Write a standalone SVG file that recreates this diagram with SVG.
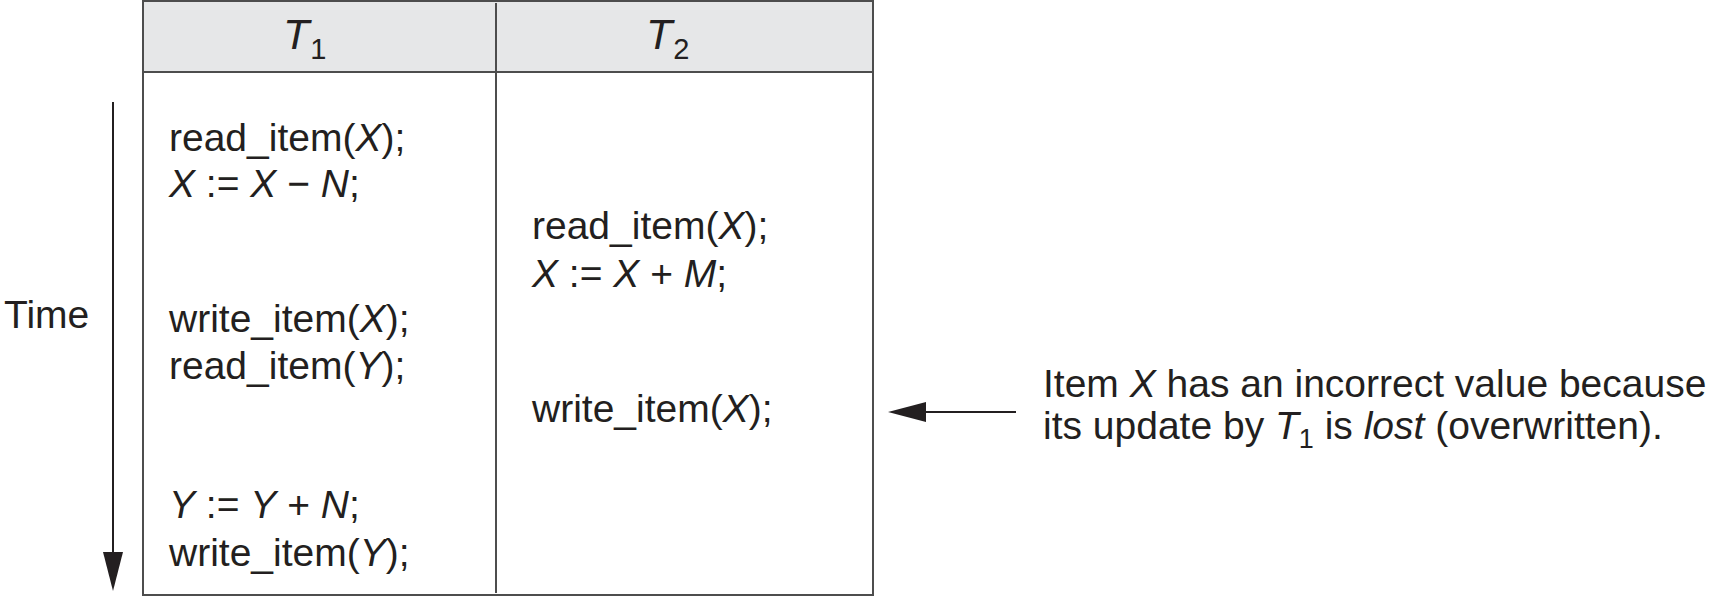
<svg xmlns="http://www.w3.org/2000/svg" width="1710" height="596" viewBox="0 0 1710 596">
<style>
.t{font-family:"Liberation Sans",Arial,sans-serif;font-size:39px;fill:#231f20}
.h{font-size:43px}
.i{font-style:italic}
.ln{stroke:#4d4d4d;stroke-width:2;fill:none}
.ar{stroke:#231f20;stroke-width:2;fill:none}
</style>
<rect width="1710" height="596" fill="#fff"/>
<g id="table">
<rect x="143" y="1" width="730" height="71" fill="#e6e7e8"/>
<rect class="ln" x="143" y="1" width="730" height="594"/>
<line class="ln" x1="143" y1="72" x2="873" y2="72"/>
<line class="ln" x1="496" y1="3" x2="496" y2="593"/>
</g>
<g id="header-t1"><text class="t h" x="283" y="49"><tspan class="i">T</tspan><tspan font-size="29" dx="1" dy="10">1</tspan></text></g>
<g id="header-t2"><text class="t h" x="646" y="49"><tspan class="i">T</tspan><tspan font-size="29" dx="1" dy="10">2</tspan></text></g>
<g id="t1-ops">
<text class="t" x="169" y="151">read_item(<tspan class="i">X</tspan>);</text>
<text class="t" x="169" y="197"><tspan class="i">X</tspan> := <tspan class="i">X</tspan> − <tspan class="i">N</tspan>;</text>
<text class="t" x="169" y="332">write_item(<tspan class="i">X</tspan>);</text>
<text class="t" x="169" y="379">read_item(<tspan class="i">Y</tspan>);</text>
<text class="t" x="169" y="518"><tspan class="i">Y</tspan> := <tspan class="i">Y</tspan> + <tspan class="i">N</tspan>;</text>
<text class="t" x="169" y="566">write_item(<tspan class="i">Y</tspan>);</text>
</g>
<g id="t2-ops">
<text class="t" x="532" y="239">read_item(<tspan class="i">X</tspan>);</text>
<text class="t" x="532" y="287"><tspan class="i">X</tspan> := <tspan class="i">X</tspan> + <tspan class="i">M</tspan>;</text>
<text class="t" x="532" y="422">write_item(<tspan class="i">X</tspan>);</text>
</g>
<g id="time-label"><text class="t" x="4" y="328">Time</text></g>
<g id="note">
<text class="t" x="1043" y="397">Item <tspan class="i">X</tspan> has an incorrect value because</text>
<text class="t" x="1043" y="439">its update by <tspan class="i">T</tspan><tspan font-size="27" dy="9">1</tspan><tspan dy="-9"> is </tspan><tspan class="i">lost</tspan> (overwritten).</text>
</g>
<g id="connectors">
<line class="ar" x1="113" y1="102" x2="113" y2="560"/>
<polygon points="103,552 123,552 113,591" fill="#231f20"/>
<line class="ar" x1="1016" y1="412" x2="920" y2="412"/>
<polygon points="888,412 926,402 926,422" fill="#231f20"/>
</g>
</svg>
